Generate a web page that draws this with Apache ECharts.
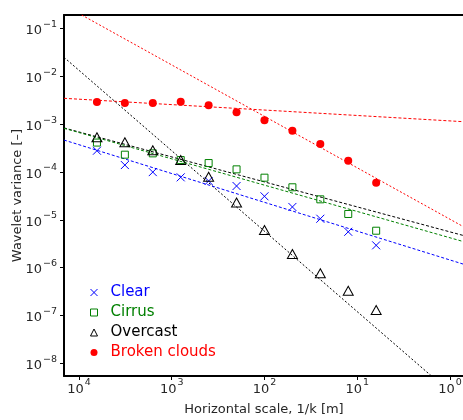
<!DOCTYPE html>
<html>
<head>
<meta charset="utf-8">
<script src="https://cdn.jsdelivr.net/npm/echarts@6/dist/echarts.min.js"></script>
<style>
  html, body { margin: 0; padding: 0; background: #fff; }
  #chart { width: 463px; height: 420px; }
</style>
</head>
<body>
<div id="chart"></div>
<script>
// Horizontal scales (m) at which wavelet variance is evaluated
const scales = [6400, 3200, 1600, 800, 400, 200, 100, 50, 25, 12.5, 6.25];

// Wavelet variance per sky condition
const clear    = [2.77e-4, 1.39e-4, 9.9e-5, 7.7e-5, 6.45e-5, 5.07e-5, 3.09e-5, 1.85e-5, 1.05e-5, 5.6e-6, 2.92e-6];
const cirrus   = [4.1e-4, 2.29e-4, 2.44e-4, 1.77e-4, 1.53e-4, 1.13e-4, 7.57e-5, 4.77e-5, 2.67e-5, 1.32e-5, 5.9e-6];
const overcast = [5.28e-4, 4.15e-4, 2.83e-4, 1.77e-4, 7.9e-5, 2.29e-5, 6.1e-6, 1.92e-6, 7.6e-7, 3.29e-7, 1.30e-7];
const broken   = [2.88e-3, 2.75e-3, 2.75e-3, 2.93e-3, 2.46e-3, 1.76e-3, 1.20e-3, 7.26e-4, 3.83e-4, 1.71e-4, 5.94e-5];

// Power-law fit lines, each given by two end points [scale, variance]
const fitClear      = [[14500, 4.63e-4], [0.706, 1.17e-6]];
const fitCirrus     = [[14500, 8.15e-4], [0.706, 3.47e-6]];
const fitOvercast   = [[14500, 8.3e-4], [0.706, 4.65e-6]];
const fitOvercastSt = [[14500, 2.48e-2], [1.54, 5.18e-9]];
const fitBrokenFlat = [[14500, 3.45e-3], [0.706, 1.118e-3]];
const fitBrokenStp  = [[9350, 0.19], [0.706, 7.05e-6]];

// Reference level
const noiseLevel = 1e-6;

// Tick positions (decades)
const xTicks = [1, 10, 100, 1000, 10000];
const yTicks = [1e-8, 1e-7, 1e-6, 1e-5, 1e-4, 1e-3, 1e-2, 1e-1];

const FONT = 'DejaVu Sans';
const C_BLUE = '#0000ff', C_GREEN = '#008000', C_BLACK = '#000000', C_RED = '#ff0000';

function pow10Label(v) {
  const e = Math.round(Math.log10(v));
  return '{b|10}{s|' + String(e).replace('-', '\u2212') + '}';
}
const richSup = {
  b: { fontFamily: FONT, fontSize: 13, color: '#262626', lineHeight: 18, verticalAlign: 'bottom' },
  s: { fontFamily: FONT, fontSize: 9.5, color: '#262626', lineHeight: 18, verticalAlign: 'top', padding: [0, 0, 0, 1] }
};

const pairs = ys => scales.map((x, i) => [x, ys[i]]);
const CROSS = 'path://M0,0L10,10M10,0L0,10';

function fitSeries(name, pts, color, dash) {
  return {
    name: name, type: 'line', data: pts, showSymbol: false, silent: true,
    lineStyle: { color: color, width: 1, type: dash },
    z: 1
  };
}

const chart = echarts.init(document.getElementById('chart'), null, { renderer: 'canvas' });
chart.setOption({
  animation: false,
  backgroundColor: '#ffffff',
  grid: { left: 64, top: 15, width: 400, height: 361, containLabel: false, outerBoundsMode: 'none' },
  legend: {
    orient: 'vertical', left: 85, top: 280,
    itemWidth: 7, itemHeight: 7, itemGap: 5,
    itemStyle: { borderWidth: 1 },
    textStyle: { fontFamily: FONT, fontSize: 15, padding: [0, 0, 0, 8] },
    data: [
      { name: 'Clear', textStyle: { color: C_BLUE } },
      { name: 'Cirrus', textStyle: { color: C_GREEN } },
      { name: 'Overcast', textStyle: { color: C_BLACK } },
      { name: 'Broken clouds', textStyle: { color: C_RED } }
    ]
  },
  xAxis: [{
    type: 'log', logBase: 10, inverse: true,
    min: 0.706, max: 14500,
    name: 'Horizontal scale, 1/k [m]', nameLocation: 'middle', nameGap: 27, nameMoveOverlap: false,
    nameTextStyle: { fontFamily: FONT, fontSize: 13, color: '#262626' },
    axisLine: { show: true, lineStyle: { color: '#000', width: 2 } },
    axisTick: { show: true, inside: false, length: 4, customValues: xTicks, lineStyle: { color: '#000', width: 1 } },
    axisLabel: { margin: 2, customValues: xTicks, formatter: pow10Label, rich: richSup },
    splitLine: { show: false }, minorTick: { show: false }
  }, {
    type: 'value', position: 'top', min: 0, max: 1,
    axisLine: { show: true, lineStyle: { color: '#000', width: 2 } },
    axisTick: { show: false }, axisLabel: { show: false }, splitLine: { show: false }
  }],
  yAxis: {
    type: 'log', logBase: 10,
    min: 5.43e-9, max: 0.19,
    name: 'Wavelet variance [\u2013]', nameLocation: 'middle', nameGap: 46, nameRotate: 90, nameMoveOverlap: false,
    nameTextStyle: { fontFamily: FONT, fontSize: 13, color: '#262626', verticalAlign: 'middle' },
    axisLine: { show: true, lineStyle: { color: '#000', width: 2 } },
    axisTick: { show: true, inside: false, length: 4, customValues: yTicks, lineStyle: { color: '#000', width: 1 } },
    axisLabel: { margin: 7, customValues: yTicks, formatter: pow10Label, rich: richSup },
    splitLine: { show: false }, minorTick: { show: false }
  },
  series: [
    fitSeries('Broken fit steep', fitBrokenStp, C_RED, [2, 2]),
    fitSeries('Broken fit flat', fitBrokenFlat, C_RED, [3, 2]),
    fitSeries('Overcast fit steep', fitOvercastSt, C_BLACK, [2, 2]),
    fitSeries('Overcast fit', fitOvercast, C_BLACK, [3, 2]),
    fitSeries('Cirrus fit', fitCirrus, C_GREEN, [3, 2]),
    {
      name: 'Clear fit', type: 'line', data: fitClear, showSymbol: false, silent: true,
      lineStyle: { color: C_BLUE, width: 1, type: [3, 2] }, z: 1,
      markLine: {
        silent: true, symbol: ['none', 'none'], label: { show: false },
        lineStyle: { color: '#bdbdbd', width: 1.5, type: 'solid' },
        data: [{ yAxis: noiseLevel }]
      }
    },
    {
      name: 'Clear', type: 'scatter', data: pairs(clear), symbol: CROSS, symbolSize: 8,
      itemStyle: { color: 'rgba(0,0,0,0)', borderColor: C_BLUE, borderWidth: 1, opacity: 1 }, z: 3
    },
    {
      name: 'Cirrus', type: 'scatter', data: pairs(cirrus), symbol: 'rect', symbolSize: 7,
      itemStyle: { color: 'rgba(0,0,0,0)', borderColor: C_GREEN, borderWidth: 1, opacity: 1 }, z: 3
    },
    {
      name: 'Overcast', type: 'scatter', data: pairs(overcast), symbol: 'triangle', symbolSize: [10, 9],
      itemStyle: { color: 'rgba(0,0,0,0)', borderColor: C_BLACK, borderWidth: 1, opacity: 1 }, z: 3
    },
    {
      name: 'Broken clouds', type: 'scatter', data: pairs(broken), symbol: 'circle', symbolSize: 8,
      itemStyle: { color: C_RED, opacity: 1 }, z: 3
    }
  ]
});
</script>
</body>
</html>
